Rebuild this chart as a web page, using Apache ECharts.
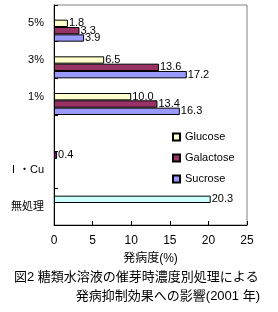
<!DOCTYPE html>
<html><head><meta charset="utf-8">
<script src="https://cdn.jsdelivr.net/npm/echarts@6/dist/echarts.min.js"></script>
<style>html,body{margin:0;padding:0;background:#fff}#c{width:278px;height:312px}</style>
</head><body><div id="c"></div>
<script>
const categories = ['5%', '3%', '1%', '', 'Ⅰ・Cu', '無処理'];
const glucose   = [1.8, 6.5, 10.0, null, null, null];
const galactose = [3.3, 13.6, 13.4, null, null, null];
const sucrose   = [3.9, 17.2, 16.3, null, null, null];
const icu       = [null, null, null, null, 0.4, null];
const control   = [null, null, null, null, null, 20.3];
const xTicks = [0, 5, 10, 15, 20, 25];

const FONT = '"Liberation Sans", "Noto Sans CJK JP", sans-serif';
const lbl = {show: true, position: 'right', distance: 1, color: '#000', fontSize: 11, fontFamily: FONT,
  formatter: p => p.value == null ? '' : Number(p.value).toFixed(1)};
function mk(name, data, color) {
  return {name, type: 'bar', data, barGap: '0%', barCategoryGap: '0%',
    itemStyle: {color, borderColor: '#000', borderWidth: 1}, label: lbl, animation: false};
}
const chart = echarts.init(document.getElementById('c'), null, {renderer: 'canvas'});
chart.setOption({
  animation: false,
  textStyle: {fontFamily: FONT},
  grid: {left: 54, right: 31, top: 5, bottom: 87, show: true, borderColor: '#808080', borderWidth: 1},
  xAxis: {type: 'value', min: xTicks[0], max: xTicks[xTicks.length - 1], interval: 5,
    axisLine: {show: true, lineStyle: {color: '#000'}},
    axisTick: {show: true, inside: true, length: 4, lineStyle: {color: '#000'}},
    splitLine: {show: false},
    axisLabel: {color: '#000', fontSize: 12, margin: 10, fontFamily: FONT},
    name: '発病度(%)', nameLocation: 'middle', nameGap: 28,
    nameTextStyle: {color: '#000', fontSize: 12, fontFamily: FONT}},
  yAxis: {type: 'category', data: categories, inverse: true,
    axisLine: {show: true, lineStyle: {color: '#000'}},
    axisTick: {show: true, inside: true, length: 4, lineStyle: {color: '#000'}},
    axisLabel: {color: '#000', fontSize: 11, margin: 10, fontFamily: FONT}},
  legend: {orient: 'vertical', left: 167, top: 125, itemWidth: 7, itemHeight: 7, itemGap: 7, icon: 'rect',
    data: ['Glucose', 'Galactose', 'Sucrose'],
    textStyle: {color: '#000', fontSize: 11, lineHeight: 14, fontFamily: FONT}},
  series: [
    mk('Ⅰ・Cu', icu, '#800080'),
    mk('無処理', control, '#CCFFFF'),
    mk('Glucose', glucose, '#FFFFCC'),
    mk('Galactose', galactose, '#993366'),
    mk('Sucrose', sucrose, '#9999FF')
  ],
  graphic: [
    {type: 'text', left: 14, top: 271, style: {text: '図2 糖類水溶液の催芽時濃度別処理による', fontSize: 13, fill: '#000', fontFamily: FONT}},
    {type: 'text', right: 18, top: 290, style: {text: '発病抑制効果への影響(2001 年)', fontSize: 13, fill: '#000', fontFamily: FONT}}
  ]
});
</script></body></html>
